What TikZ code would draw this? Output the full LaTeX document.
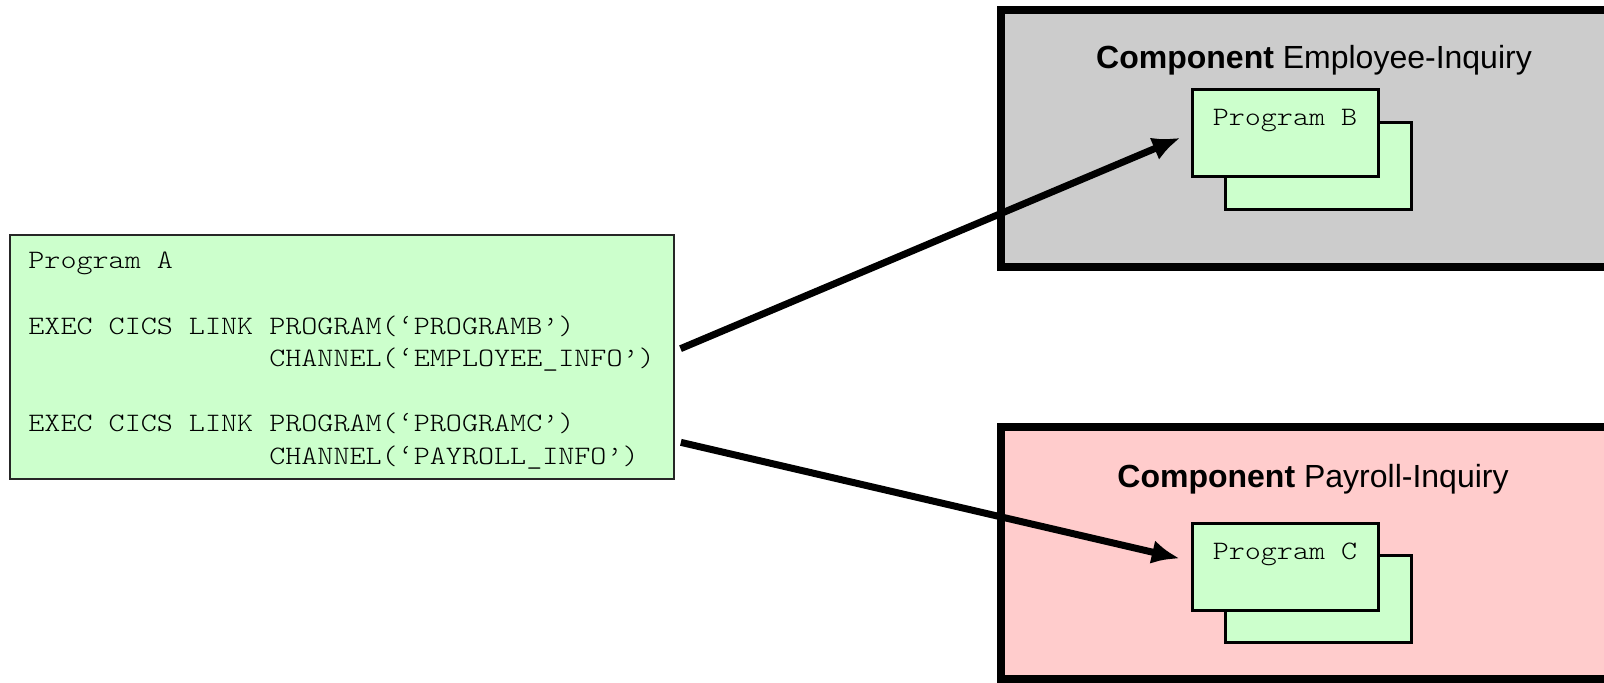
\documentclass[tikz,border=0pt]{standalone}
\usepackage{fontspec}
\setmainfont{Liberation Sans}
\setmonofont{lmmonolt10-regular.otf}[FakeStretch=1.15]
\usetikzlibrary{positioning,arrows.meta}

\definecolor{progGreen}{HTML}{CCFFCC}
\definecolor{compGray}{HTML}{CCCCCC}
\definecolor{compPink}{HTML}{FFCCCC}

\begin{document}
\begin{tikzpicture}[
        x=0.5pt, y=-0.5pt,
        node distance=0.3cm,
        every node/.style={font=\fontsize{13.3}{16.3}\selectfont\ttfamily},
        component/.style={rectangle, draw, line width=4pt, minimum width=309.5pt, minimum height=128.5pt, inner sep=0pt},
        complabel/.style={font=\fontsize{16}{19}\selectfont\rmfamily, inner sep=0pt},
        program/.style={rectangle, draw, line width=1.5pt, fill=progGreen, minimum width=93pt, minimum height=43.5pt, inner sep=0pt},
        caller/.style={rectangle, draw=black!85, line width=1pt, fill=progGreen, minimum width=332pt, minimum height=122pt, inner sep=0pt},
        code/.style={align=left, inner sep=0pt},
        line/.style={-{Latex[length=14pt,width=12pt]}, line width=3.5pt}
    ]
        \path[use as bounding box, clip] (0,0) rectangle (1604,683);
        % components
        \node[component, fill=compGray] (empComp) at (1310.5,138.5) {};
        \node[component, fill=compPink, minimum height=126pt] (payComp) at (1310.5,553) {};
        \node[complabel] (empLabel) at (1314,60) {\textbf{Component} Employee-Inquiry};
        \node[complabel] (payLabel) at (1313,479) {\textbf{Component} Payroll-Inquiry};
        % programs
        \node[program] (progBb) at (1318,166.5) {};
        \node[program] (progBf) at (1285,133.5) {};
        \node[below=7pt of progBf.north] (progBtxt) {Program B};
        \node[program] (progCb) at (1318,598.5) {};
        \node[program] (progCf) at (1285,567) {};
        \node[below=7pt of progCf.north] (progCtxt) {Program C};
        % calling program
        \node[caller] (progA) at (342,357) {};
        \node[code, below right=9pt and 9.5pt of progA.north west] (codeA) {Program A\\[16.3pt]
            EXEC CICS LINK PROGRAM(‘PROGRAMB’)\\
            \phantom{EXEC CICS LINK }CHANNEL(‘EMPLOYEE\_INFO’)\\[16.3pt]
            EXEC CICS LINK PROGRAM(‘PROGRAMC’)\\
            \phantom{EXEC CICS LINK }CHANNEL(‘PAYROLL\_INFO’)};
        \draw[line, shorten <=3pt, shorten >=5.5pt] ([yshift=3pt]progA.east) -- (progBf.west);
        \draw[line, shorten <=3pt, shorten >=5.5pt] ([yshift=-42pt]progA.east) -- ([yshift=3pt]progCf.west);
    \end{tikzpicture}
\end{document}
